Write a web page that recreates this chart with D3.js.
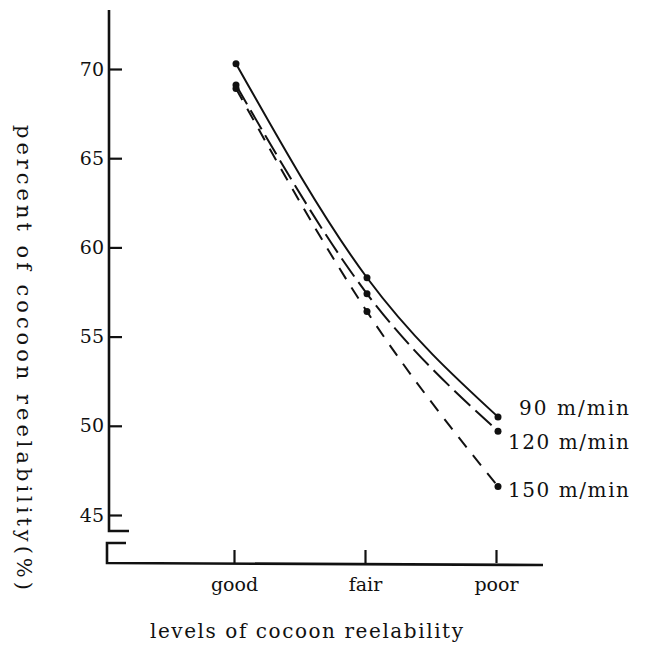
<!DOCTYPE html>
<html>
<head>
<meta charset="utf-8">
<script src="https://cdn.jsdelivr.net/npm/d3@7"></script>
<style>
  body { margin: 0; background: #fff; }
  text { font-family: "DejaVu Serif", "Liberation Serif", serif; fill: #111; }
  .axis line { stroke: #111; stroke-width: 2.2px; }
  .curve { fill: none; stroke: #111; stroke-width: 2px; }
</style>
</head>
<body>
<div id="chart"></div>
<script>
// levels along the x axis
var levels = ["good", "fair", "poor"];
// percent of cocoon reelability per reeling speed
var speed90  = [70.3, 58.3, 50.5];
var speed120 = [69.1, 57.4, 49.7];
var speed150 = [68.9, 56.4, 46.6];
var speedNames = ["90 m/min", "120 m/min", "150 m/min"];
var yTicks = [45, 50, 55, 60, 65, 70];

var drawChart = function() {
  var width = 646, height = 655;
  var axisX = 109, baseY = 563;

  var svg = d3.select("#chart").append("svg")
    .attr("width", width)
    .attr("height", height);

  var x = d3.scalePoint()
    .domain(levels)
    .range([236, 498]);

  var y = d3.scaleLinear()
    .domain([45, 70])
    .range([515, 69]);

  // y axis, ticks pointing inward
  var yAxis = svg.append("g")
    .attr("class", "axis")
    .attr("transform", "translate(" + axisX + ",0)")
    .call(d3.axisLeft(y)
      .tickValues(yTicks)
      .tickSizeInner(-13)
      .tickSizeOuter(0)
      .tickPadding(5));
  yAxis.select(".domain").remove();
  yAxis.selectAll("text")
    .style("font-family", "DejaVu Serif")
    .style("font-size", "19px");

  // axis lines with the break near the bottom
  var axisPath = d3.path();
  axisPath.moveTo(axisX, 10);
  axisPath.lineTo(axisX, 531);
  axisPath.lineTo(axisX + 20, 531);
  axisPath.moveTo(axisX + 17, 543);
  axisPath.lineTo(axisX - 2, 543);
  axisPath.lineTo(axisX - 2, baseY);
  axisPath.lineTo(543, baseY + 2);
  svg.append("path")
    .attr("d", axisPath.toString())
    .attr("fill", "none")
    .attr("stroke", "#111")
    .attr("stroke-width", 2.6);

  // x axis ticks and labels
  var xAxis = svg.append("g")
    .attr("class", "axis")
    .attr("transform", "translate(-2," + baseY + ")")
    .call(d3.axisBottom(x)
      .tickSizeInner(-13)
      .tickSizeOuter(0)
      .tickPadding(15));
  xAxis.select(".domain").remove();
  xAxis.selectAll("text")
    .style("font-family", "DejaVu Serif")
    .style("font-size", "19px");

  var series = [
    { name: speedNames[0], values: speed90,  dash: null,    dx: 21, dy: -2, len: 110 },
    { name: speedNames[1], values: speed120, dash: "22,7",  dx: 10, dy: 18, len: 121 },
    { name: speedNames[2], values: speed150, dash: "13,10", dx: 10, dy: 11, len: 121 }
  ];

  var line = d3.line()
    .x(function(d, i) { return x(levels[i]); })
    .y(function(d) { return y(d); })
    .curve(d3.curveNatural);

  series.forEach(function(s) {
    svg.append("path")
      .attr("class", "curve")
      .attr("d", line(s.values))
      .attr("stroke-dasharray", s.dash);

    svg.selectAll(null)
      .data(s.values)
      .enter().append("circle")
      .attr("cx", function(d, i) { return x(levels[i]); })
      .attr("cy", function(d) { return y(d); })
      .attr("r", 3.5)
      .attr("fill", "#111");

    var last = s.values[s.values.length - 1];
    svg.append("text")
      .attr("x", x(levels[levels.length - 1]) + s.dx)
      .attr("y", y(last) + s.dy)
      .attr("textLength", s.len)
      .attr("lengthAdjust", "spacing")
      .style("font-size", "20px")
      .text(s.name);
  });

  // x axis title
  svg.append("text")
    .attr("x", 150)
    .attr("y", 638)
    .attr("textLength", 313)
    .attr("lengthAdjust", "spacing")
    .style("font-size", "20px")
    .text("levels of cocoon reelability");

  // y axis title, reads top to bottom
  svg.append("text")
    .attr("transform", "translate(17,125) rotate(90)")
    .attr("textLength", 465)
    .attr("lengthAdjust", "spacing")
    .style("font-size", "21px")
    .text("percent of cocoon reelability(%)");
};

drawChart();
</script>
</body>
</html>
